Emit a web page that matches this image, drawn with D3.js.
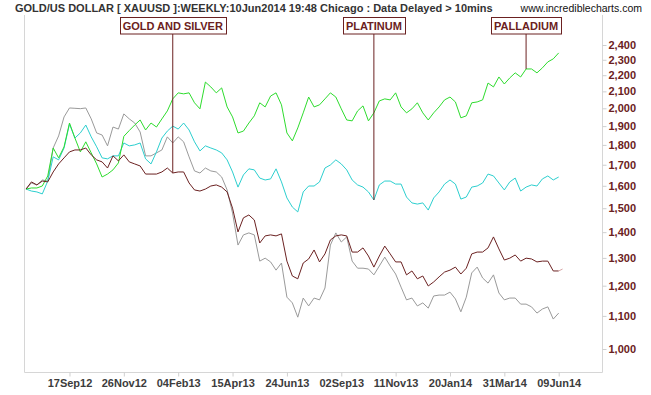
<!DOCTYPE html>
<html lang="en">
<head>
<meta charset="UTF-8">
<title>Gold / Silver / Platinum / Palladium weekly</title>
<script src="https://d3js.org/d3.v7.min.js"></script>
<style>
  body { margin: 0; background: #fff; }
  svg text { font-family: "Liberation Sans", Arial, sans-serif; }
  .tick line { stroke: #cfcfcf; }
  .yaxis text { font-size: 11px; font-weight: bold; fill: #6b2121; }
  .xaxis text { font-size: 11px; font-weight: bold; fill: #3c3c3c; }
</style>
</head>
<body>
<svg width="651" height="395"></svg>
<script>
// weekly closes, first week 23 Jul 2012, all rebased to gold's first close
var startWeek = "2012-07-23";
var latestDate = "2014-06-14";

var gold = [1585,1618,1604,1622,1618,1665,1704,1734,1764,1774,1774,1784,1749,1724,1714,1684,1744,1719,1749,1714,
  1704,1694,1655,1655,1655,1665,1684,1660,1665,1665,1613,1581,1576,1585,1599,1604,1594,1572,1500,1401,
  1459,1471,1450,1357,1385,1389,1385,1393,1288,1234,1224,1281,1296,1330,1285,1315,1369,1385,1389,1385,
  1322,1322,1338,1307,1266,1307,1345,1315,1285,1285,1238,1252,1224,1234,1199,1213,1231,1248,1255,1266,
  1241,1262,1315,1322,1322,1338,1381,1334,1292,1299,1311,1288,1299,1296,1285,1288,1288,1252,1252];
var goldLatest = 1259;

var silver = [1585,1613,1604,1627,1622,1784,1847,1951,2002,2000,1998,2002,1940,1863,1852,1795,1895,1884,1968,1940,
  1917,1868,1744,1744,1759,1774,1842,1810,1842,1816,1739,1670,1660,1684,1670,1665,1641,1581,1479,1349,
  1389,1397,1389,1288,1299,1285,1255,1281,1161,1142,1096,1158,1132,1158,1152,1192,1349,1397,1361,1381,
  1288,1262,1262,1259,1238,1270,1303,1270,1241,1195,1152,1158,1132,1142,1125,1165,1168,1168,1178,1155,
  1113,1161,1245,1266,1227,1209,1238,1175,1152,1158,1158,1138,1138,1129,1109,1122,1129,1090,1109];

var platinum = [1585,1576,1572,1563,1622,1739,1724,1784,1911,1836,1863,1906,1842,1790,1734,1729,1744,1744,1810,1795,
  1800,1810,1729,1704,1764,1836,1873,1900,1884,1917,1879,1816,1769,1795,1784,1774,1759,1724,1665,1594,
  1651,1680,1675,1636,1627,1632,1680,1618,1545,1505,1484,1572,1599,1599,1618,1684,1699,1724,1704,1675,
  1627,1604,1594,1572,1536,1604,1622,1622,1608,1608,1549,1523,1518,1523,1492,1545,1572,1608,1627,1608,
  1540,1549,1594,1599,1613,1655,1646,1613,1581,1618,1636,1576,1594,1604,1599,1632,1646,1627,1641];

var palladium = [1585,1590,1590,1599,1646,1784,1734,1790,1917,1836,1764,1816,1759,1704,1641,1655,1675,1709,1845,1876,
  1906,1934,1879,1917,1895,1940,1985,2055,2091,2085,2091,2032,1997,2157,2127,2091,2121,2008,1951,1863,
  1873,1917,1957,2032,2008,2072,2091,2020,1863,1821,1890,1974,2066,2008,2020,2055,2091,2066,1997,1934,
  1929,1985,2014,1929,1974,2043,2055,2049,2091,2008,1974,1997,2032,1974,1934,1974,2008,2049,2066,2037,
  1946,1957,2032,2037,2049,2151,2127,2189,2145,2183,2215,2189,2240,2240,2215,2247,2286,2306,2346];

var yTicks = [1000,1100,1200,1300,1400,1500,1600,1700,1800,1900,2000,2100,2200,2300,2400];
var xTickLabels = ["17Sep12","26Nov12","04Feb13","15Apr13","24Jun13","02Sep13","11Nov13","20Jan14","31Mar14","09Jun14"];

var noteLabels = ["GOLD AND SILVER", "PLATINUM", "PALLADIUM"];
var noteWeeks = [27, 64, 92];
var noteSeries = [gold, platinum, palladium];

var titleText = "GOLD/US DOLLAR [ XAUUSD ]:WEEKLY:10Jun2014 19:48 Chicago : Data Delayed > 10mins";
var siteText = "www.incrediblecharts.com";

var svg = d3.select("svg");
var plotLeft = 24.5, plotRight = 602.5, plotTop = 15, plotBottom = 372.5;
var maroon = "#6b2121";

var parseDay = d3.utcParse("%Y-%m-%d");
var parseTick = d3.utcParse("%d%b%y");
var start = parseDay(startWeek);
var dates = gold.map(function(d, i) { return d3.utcDay.offset(start, 7 * i); });

var x = d3.scaleUtc()
    .domain([dates[0], dates[dates.length - 1]])
    .range([26, 558.7]);

var y = d3.scaleLog()
    .domain([1000, 2400])
    .range([349, 45]);

// frame
svg.append("path")
    .attr("d", "M" + plotLeft + "," + plotTop + "V" + plotBottom + "H" + plotRight + "V" + plotTop)
    .attr("fill", "none")
    .attr("stroke", "#d6d6d6");

// axes
var yAxis = svg.append("g")
    .attr("class", "yaxis")
    .attr("transform", "translate(" + plotRight + ",0)")
    .call(d3.axisRight(y).tickValues(yTicks).tickFormat(d3.format(",")).tickSize(4).tickPadding(2));
yAxis.select(".domain").remove();

var xAxis = svg.append("g")
    .attr("class", "xaxis")
    .attr("transform", "translate(0," + plotBottom + ")")
    .call(d3.axisBottom(x).tickValues(xTickLabels.map(parseTick))
        .tickFormat(d3.utcFormat("%d%b%y")).tickSize(4).tickPadding(3));
xAxis.select(".domain").remove();
svg.selectAll(".tick text").attr("font-family", null);

// lines
var line = d3.line()
    .x(function(d, i) { return x(dates[i]); })
    .y(function(d) { return y(d); });

var series = [
  {values: silver, color: "#9a9a9a"},
  {values: platinum, color: "#2ccfcf"},
  {values: palladium, color: "#2edc2e"},
  {values: gold, color: maroon}
];

svg.selectAll(".series")
  .data(series)
  .enter().append("path")
    .attr("class", "series")
    .attr("fill", "none")
    .attr("stroke", function(d) { return d.color; })
    .attr("stroke-width", 1)
    .attr("d", function(d) { return line(d.values); });

// latest (unfinished) week for gold
var last = gold.length - 1;
svg.append("line")
    .attr("x1", x(dates[last])).attr("y1", y(gold[last]))
    .attr("x2", x(parseDay(latestDate))).attr("y2", y(goldLatest))
    .attr("stroke", "#d8a6a6");

// annotations
noteLabels.forEach(function(label, k) {
  var wk = noteWeeks[k];
  var px = x(dates[wk]), py = y(noteSeries[k][wk]);
  var g = svg.append("g");
  g.append("line")
      .attr("x1", px).attr("x2", px)
      .attr("y1", 34).attr("y2", py)
      .attr("stroke", maroon);
  var rect = g.append("rect");
  var t = g.append("text")
      .attr("x", px).attr("y", 29.5)
      .attr("text-anchor", "middle")
      .attr("font-size", "11px")
      .attr("font-weight", "bold")
      .attr("fill", maroon)
      .text(label);
  var w = t.node().getComputedTextLength() + 6;
  rect.attr("x", Math.round(px - w / 2) + 0.5).attr("y", 17.5)
      .attr("width", Math.round(w)).attr("height", 16.5)
      .attr("fill", "#fff").attr("stroke", maroon);
});

// header
svg.append("text")
    .attr("x", 15).attr("y", 11.5)
    .attr("font-size", "11px")
    .attr("font-weight", "bold")
    .attr("fill", "#333")
    .text(titleText);

svg.append("text")
    .attr("x", 642).attr("y", 12)
    .attr("text-anchor", "end")
    .attr("font-size", "10.5px")
    .attr("fill", "#111")
    .text(siteText);
</script>
</body>
</html>
